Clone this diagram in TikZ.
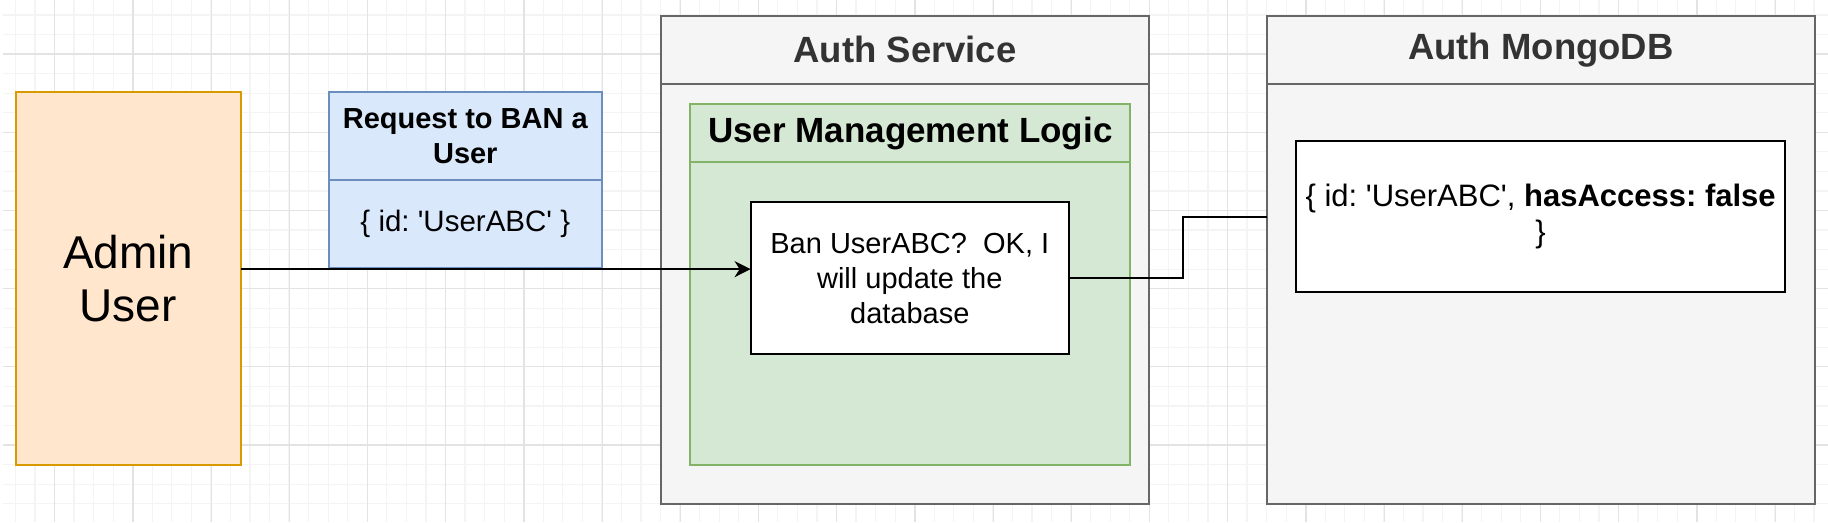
\documentclass[tikz,border=0pt]{standalone}
\usepackage{fontspec}
\setmainfont{Liberation Sans}
\usetikzlibrary{positioning,arrows.meta}
\definecolor{gridmajor}{HTML}{E3E3E3}
\definecolor{gridminor}{HTML}{F4F4F4}
\definecolor{adminfill}{HTML}{FFE6CC}
\definecolor{adminline}{HTML}{D79B00}
\definecolor{reqfill}{HTML}{DAE8FC}
\definecolor{reqline}{HTML}{6C8EBF}
\definecolor{lanefill}{HTML}{F5F5F5}
\definecolor{laneline}{HTML}{666666}
\definecolor{lanetext}{HTML}{333333}
\definecolor{logicfill}{HTML}{D5E8D4}
\definecolor{logicline}{HTML}{82B366}
\newcommand{\sq}{\textquotesingle}
\frenchspacing

\begin{document}
\begin{tikzpicture}[x=1pt,y=-1pt,
  box/.style={draw, line width=1.9pt, inner sep=0pt, outer sep=0pt, align=center},
  minorgrid/.style={gridminor, line width=1.2pt},
  majorgrid/.style={gridmajor, line width=1.2pt},
  admin/.style={box, draw=adminline, fill=adminfill, font=\fontsize{46}{53}\selectfont},
  reqbox/.style={box, draw=reqline, fill=reqfill, minimum width=273.4pt, font=\fontsize{29.5}{35}\selectfont},
  lane/.style={box, draw=laneline, fill=lanefill},
  lanehead/.style={lane, text=lanetext, minimum height=68.3pt, font=\bfseries\fontsize{36.5}{42}\selectfont},
  logic/.style={box, draw=logicline, fill=logicfill, minimum width=440pt},
  plain/.style={box, draw=black, fill=white},
  conn/.style={black, line width=2pt}]
\useasboundingbox (0,0) rectangle (1828,522);
%%% background grid
\begin{scope}
\clip (3,0) rectangle (1828,522);
\foreach \i in {0,...,94} \draw[minorgrid] (-4.2+19.55*\i,0) -- ++(0,522);
\foreach \j in {0,...,27} \draw[minorgrid] (0,-4.6+19.55*\j) -- ++(1828,0);
\foreach \i in {0,...,22} \draw[majorgrid] (54.8+78.2*\i,0) -- ++(0,522);
\foreach \j in {0,...,5} \draw[majorgrid] (0,54+78.2*\j) -- ++(1828,0);
\end{scope}
%%% the admin and the request
\node[admin, minimum width=225.4pt, minimum height=373pt] (admin) at (128.3,278.5) {Admin\\User};
\node[reqbox, minimum height=88pt, font=\bfseries\fontsize{29}{35}\selectfont] (req) at (465.3,136) {Request to BAN a\\User};
\node[reqbox, minimum height=87.7pt, below=0pt of req] (reqbody) {\{ id: \sq UserABC\sq\ \}};
%%% the auth service
\node[lane, minimum width=488.7pt, minimum height=488.3pt] (auth) at (905.05,259.85) {};
\node[lanehead, minimum width=488.7pt, below=0pt of auth.north] (authhead) {Auth Service};
\node[logic, minimum height=361pt] (logic) at (910.3,284.5) {};
\node[logic, minimum height=58.3pt, below=0pt of logic.north, font=\bfseries\fontsize{35}{40}\selectfont] (logichead) {User Management Logic};
\node[plain, minimum width=318.4pt, minimum height=151.7pt, font=\fontsize{29}{35}\selectfont] (ban) at (909.8,278.15) {Ban UserABC?~ OK, I\\will update the\\database};
%%% the database
\node[lane, minimum width=547.7pt, minimum height=488.3pt] (mongo) at (1540.85,259.85) {};
\node[lanehead, minimum width=547.7pt, below=0pt of mongo.north] (mongohead) {Auth MongoDB};
\node[plain, minimum width=489.3pt, minimum height=151.6pt, font=\fontsize{31}{36}\selectfont] (rec) at (1540.65,216.5) {\{ id: \sq UserABC\sq, \textbf{hasAccess: false}\\\}};
%%% connectors
\coordinate (tip) at ([yshift=9pt]ban.west);
\draw[conn, -{Stealth[length=16pt, width=16pt, inset=5pt]}] (admin.east |- tip) -- (tip);
\draw[conn] (ban.east) -- ++(113.7,0) |- (mongo.west |- rec.west);
\end{tikzpicture}
\end{document}
